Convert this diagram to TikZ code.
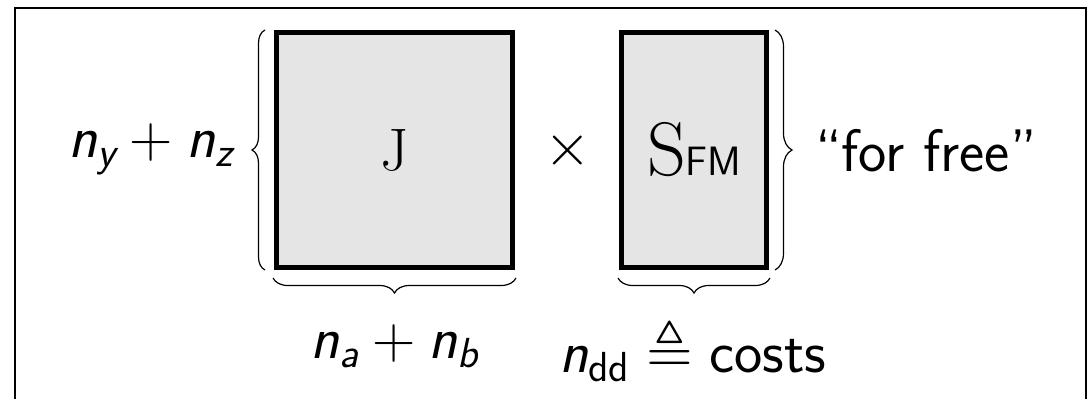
\documentclass[tikz,border=0pt]{standalone}
\usepackage{fix-cm}
\usepackage{amsmath,amssymb}
\usetikzlibrary{decorations.pathreplacing}
\definecolor{matgray}{RGB}{229,229,229}
\newcommand\sfv[1]{\textsf{\slshape #1}}
\begin{document}
\begin{tikzpicture}[x=1pt,y=-1pt,
  lbl/.style={inner sep=0pt, outer sep=0pt, font=\fontsize{60}{72}\selectfont},
  mat/.style={draw, line width=4.5pt, fill=matgray, inner sep=0pt, outer sep=0pt, minimum height=235pt},
  brc/.style={draw, line width=1.2pt, decorate, decoration={brace, amplitude=#1}},
  frm/.style={line width=2.2pt}]
\useasboundingbox (0,0) rectangle (1090,399);
\draw[frm] (15.3,400) -- (15.3,8) -- (1086.3,8) -- (1086.3,400);
\node[mat, minimum width=236pt, font=\fontsize{60}{72}\selectfont\rmfamily] (J) at (394.5,150) {J};
\node[mat, minimum width=145pt] (S) at (694.2,150) {{\fontsize{76}{80}\selectfont\rmfamily S}{\fontsize{41}{45}\selectfont\sffamily FM}};
\node[lbl] (times) at (567.5,150) {$\times$};
\node[lbl, anchor=base east] (nyz) at (233,157) {$\sfv{n}_{\sfv{y}} + \sfv{n}_{\sfv{z}}$};
\node[lbl, anchor=base west, font=\fontsize{60}{72}\selectfont\sffamily] (free) at (815,171) {“for free”};
\node[lbl, anchor=base] (nab) at (394.5,358) {$\sfv{n}_{\sfv{a}} + \sfv{n}_{\sfv{b}}$};
\node[lbl, anchor=base] (ndd) at (693,372) {$\sfv{n}_{\textsf{dd}} \triangleq \textsf{costs}$};
\draw[brc=13pt] ([shift={(-11.5pt,-2.5pt)}]J.south west) -- ([shift={(-11.5pt,2.5pt)}]J.north west);
\draw[brc=17pt] ([shift={(8.3pt,2.5pt)}]S.north east) -- ([shift={(8.3pt,-2.5pt)}]S.south east);
\draw[brc=15pt] ([shift={(3.5pt,-10.5pt)}]J.south east) -- ([shift={(-3.5pt,-10.5pt)}]J.south west);
\draw[brc=15pt] ([shift={(3.3pt,-10.5pt)}]S.south east) -- ([shift={(-3.7pt,-10.5pt)}]S.south west);
\end{tikzpicture}
\end{document}
